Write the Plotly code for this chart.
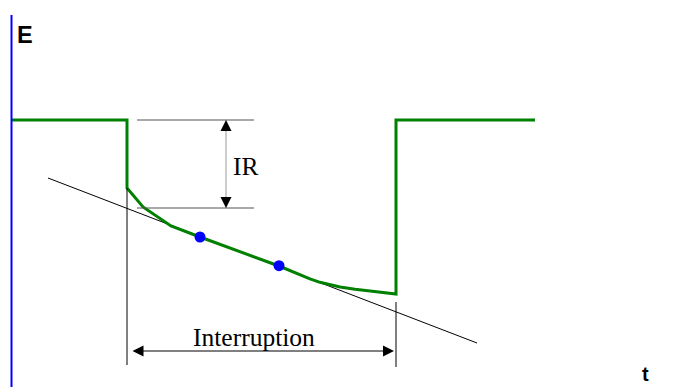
import plotly.graph_objects as go

# Battery voltage E over time t during a load interruption
t_curve = [12, 127, 127, 143, 171, 200, 279, 300, 310, 320, 330, 340, 355, 370, 385, 396, 396, 535]
e_curve = [267, 267, 199, 180, 161, 150, 121, 112, 108.2, 104.7, 102, 100, 97.7, 95.8, 94, 93, 267, 267]

# Two fit points on the linear part of the discharge
t_fit = [200, 279]
e_fit = [150, 121.3]

# Extrapolated straight line through the fit points
t_tan = [48, 477]
e_tan = [209, 44]

# IR drop levels and interruption bounds
ir_top, ir_bottom = 267, 179
t_ir_left, t_ir_right, t_ir_arrow = 137, 254, 226
t_int_start, t_int_end = 127, 396
e_int_arrow = 36

fig = go.Figure()

fig.add_trace(go.Scatter(x=t_tan, y=e_tan, mode="lines",
                         line=dict(color="black", width=1), hoverinfo="skip"))
fig.add_trace(go.Scatter(x=t_curve, y=e_curve, mode="lines",
                         line=dict(color="#008000", width=3), hoverinfo="skip"))
fig.add_trace(go.Scatter(x=t_fit, y=e_fit, mode="markers",
                         marker=dict(color="#0000ff", size=11), hoverinfo="skip"))

# vertical E axis
fig.add_shape(type="line", x0=11.5, x1=11.5, y0=0, y1=372,
              line=dict(color="#0000ff", width=2))

# IR reference levels
for lvl in (ir_top, ir_bottom):
    fig.add_shape(type="line", x0=t_ir_left, x1=t_ir_right, y0=lvl, y1=lvl,
                  line=dict(color="#555555", width=1))
fig.add_shape(type="line", x0=t_ir_arrow, x1=t_ir_arrow, y0=ir_bottom, y1=ir_top,
              line=dict(color="#999999", width=1))
for tip, tail in ((ir_top, ir_top - 12), (ir_bottom, ir_bottom + 12)):
    fig.add_annotation(x=t_ir_arrow, y=tip, ax=t_ir_arrow, ay=tail,
                       axref="x", ayref="y", text="", showarrow=True,
                       arrowhead=2, arrowsize=2.2, arrowwidth=1, arrowcolor="black")

# interruption bounds
fig.add_shape(type="line", x0=t_int_start, x1=t_int_start, y0=22, y1=199,
              line=dict(color="black", width=1))
fig.add_shape(type="line", x0=t_int_end, x1=t_int_end, y0=20, y1=85,
              line=dict(color="black", width=1))
fig.add_annotation(x=t_int_end - 2, y=e_int_arrow, ax=t_int_start + 4, ay=e_int_arrow,
                   axref="x", ayref="y", text="", showarrow=True,
                   arrowhead=2, startarrowhead=2, arrowside="end+start",
                   arrowsize=2.2, startarrowsize=2.2, arrowwidth=1, arrowcolor="black")

serif = dict(family="Liberation Serif, Times New Roman, serif", size=25.5, color="black")
sans = dict(family="Liberation Sans, Arial, sans-serif", color="black")
fig.add_annotation(x=246, y=221, text="IR", showarrow=False, font=serif)
fig.add_annotation(x=254, y=50, text="Interruption", showarrow=False, font=serif)
fig.add_annotation(x=25, y=352, text="<b>E</b>", showarrow=False, font=dict(size=23.5, **sans))
fig.add_annotation(x=645, y=13, text="<b>t</b>", showarrow=False, font=dict(size=20, **sans))

fig.update_layout(
    width=677, height=387, margin=dict(l=0, r=0, t=0, b=0),
    paper_bgcolor="white", plot_bgcolor="white", showlegend=False,
    xaxis=dict(range=[0, 677], visible=False, fixedrange=True),
    yaxis=dict(range=[0, 387], visible=False, fixedrange=True),
)

fig.write_html("out.html", config={"displayModeBar": False})
